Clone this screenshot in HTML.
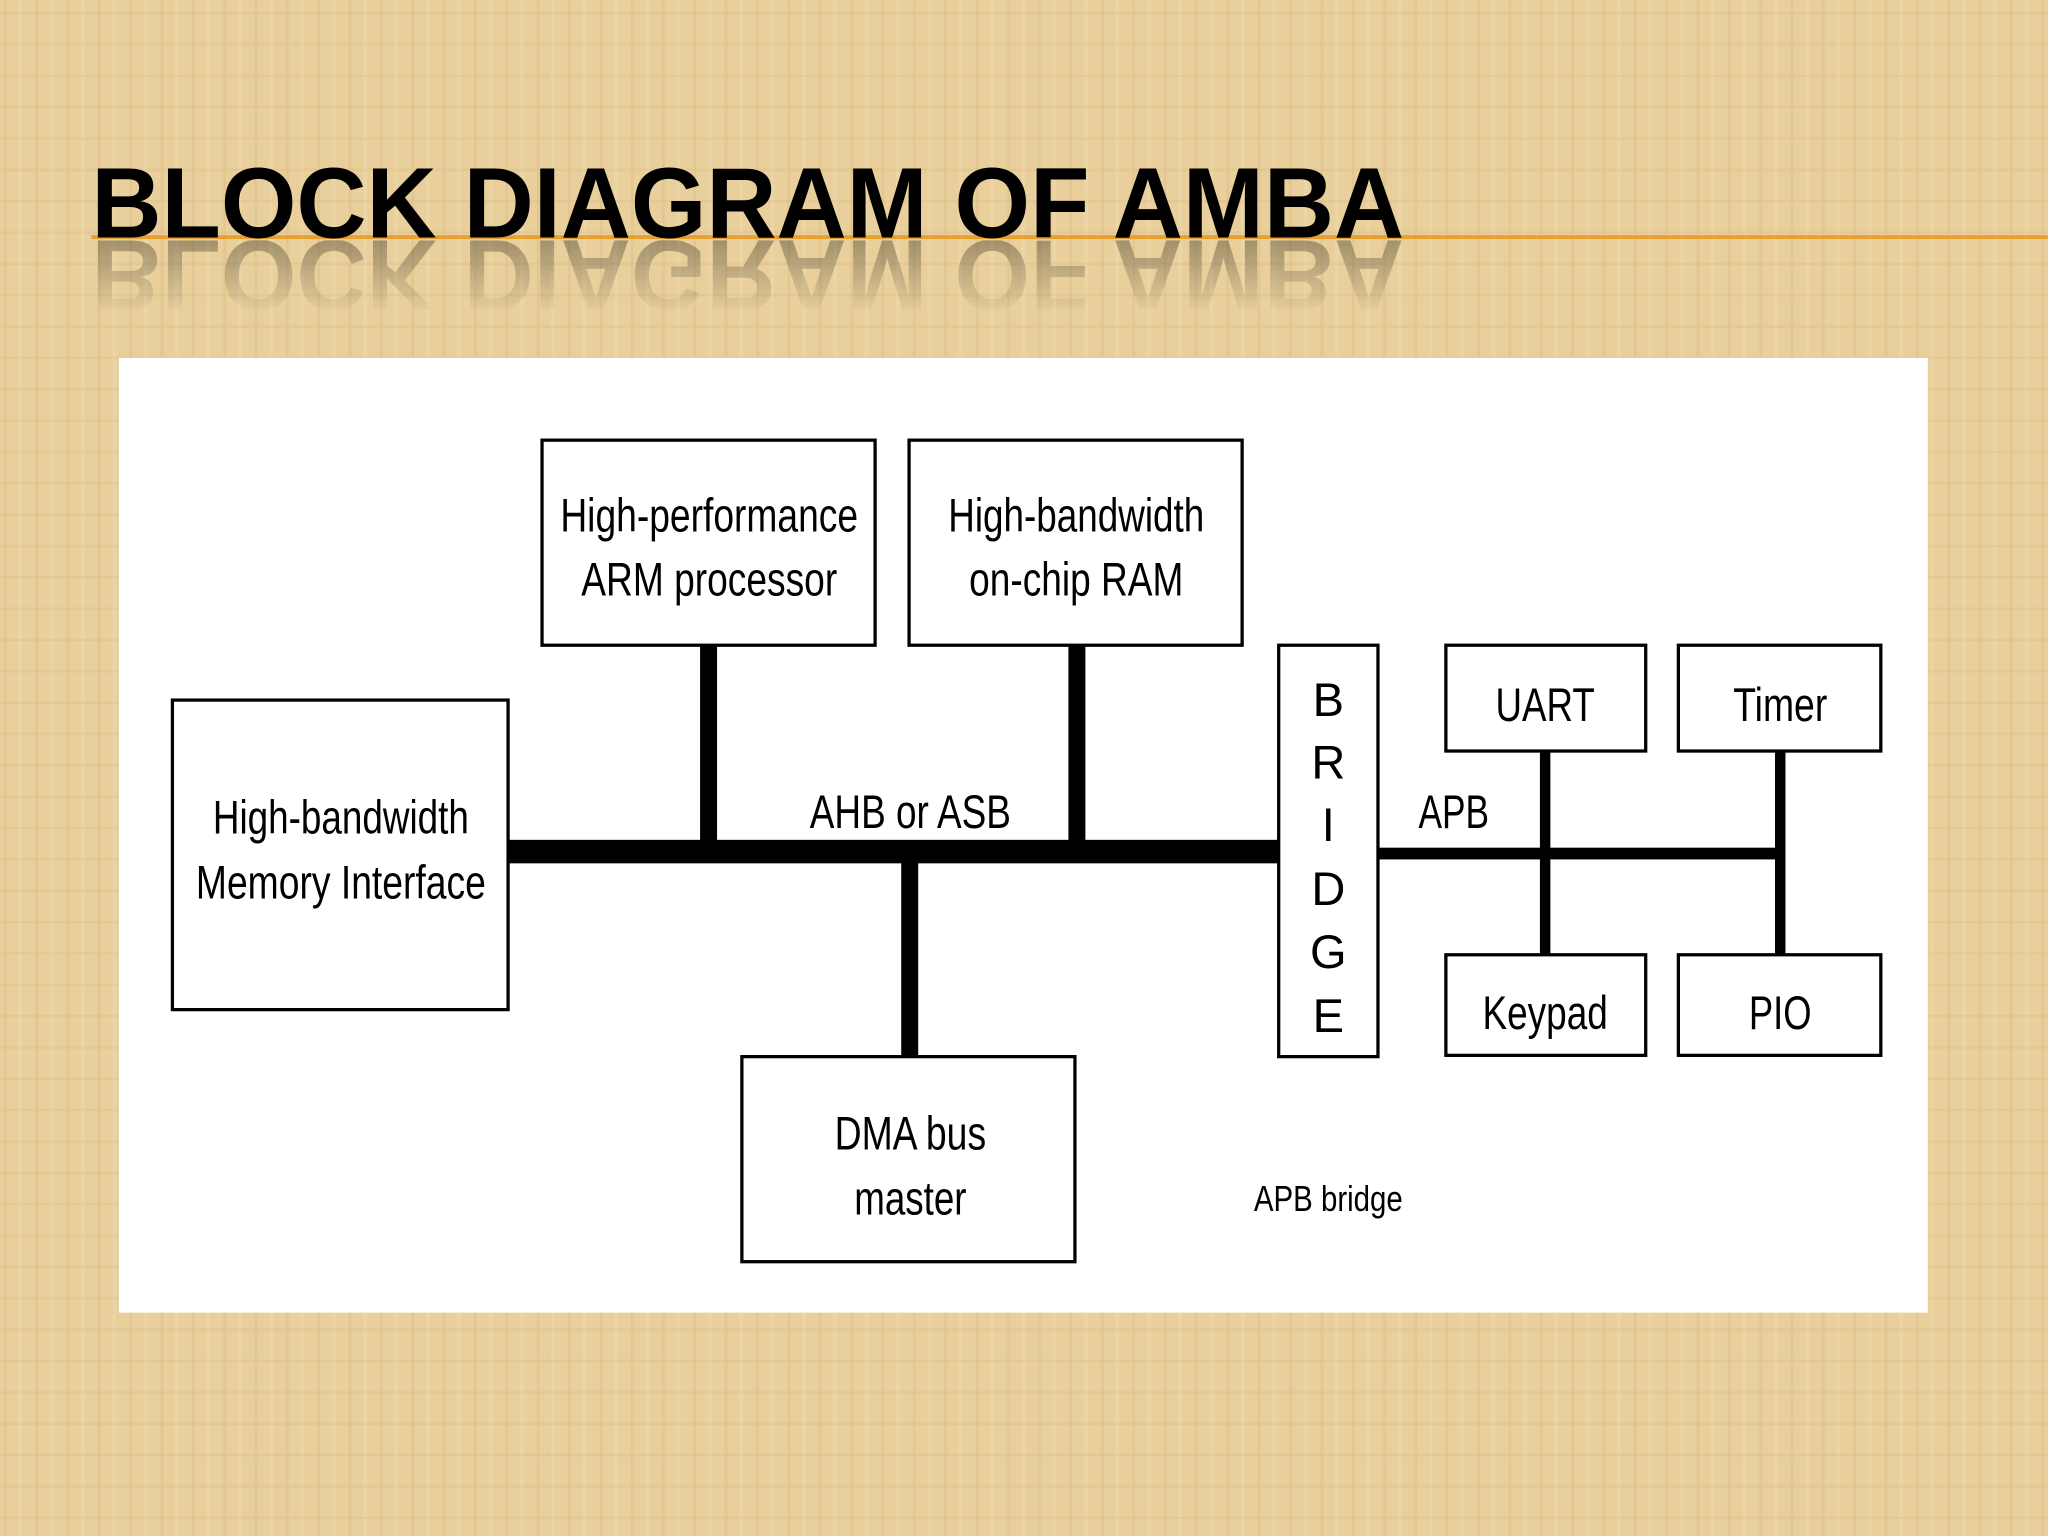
<!DOCTYPE html>
<html><head><meta charset="utf-8"><style>
html,body{margin:0;padding:0;background:#e6cd98;}
svg{display:block}
</style></head><body>
<svg width="2048" height="1536" viewBox="0 0 1568 1176" xmlns="http://www.w3.org/2000/svg" font-family="Liberation Sans, sans-serif">
<defs>
<pattern id="tex" width="24" height="24" patternUnits="userSpaceOnUse">
<rect width="24" height="24" fill="#e8cf9b"/>
<rect x="3" width="2" height="24" fill="#dcc088" opacity="0.5"/>
<rect x="14" width="3" height="24" fill="#f0dcae" opacity="0.5"/>
<rect y="9" width="24" height="2" fill="#d8bb82" opacity="0.3"/>
</pattern>
<linearGradient id="fade" gradientUnits="userSpaceOnUse" x1="0" y1="184" x2="0" y2="240">
<stop offset="0" stop-color="#fff" stop-opacity="1"/>
<stop offset="1" stop-color="#fff" stop-opacity="0"/>
</linearGradient>
<mask id="m"><rect x="0" y="184" width="1568" height="60" fill="url(#fade)"/></mask>
</defs>
<rect width="1568" height="1176" fill="url(#tex)"/>
<g mask="url(#m)">
<text transform="translate(0,366) scale(1,-1)" x="70" y="182" font-size="77" font-weight="bold" textLength="1005" lengthAdjust="spacingAndGlyphs" fill="#000" opacity="0.3">BLOCK DIAGRAM OF AMBA</text>
</g>
<rect x="70" y="180" width="1498" height="3" fill="#e8a030"/>
<text x="70" y="182" font-size="77" font-weight="bold" textLength="1005" lengthAdjust="spacingAndGlyphs" fill="#000">BLOCK DIAGRAM OF AMBA</text>
<rect x="91" y="274" width="1385" height="731" fill="#fff"/>
<g fill="none" stroke="#000" stroke-width="2.5">
<rect x="132" y="536" width="257" height="237"/>
<rect x="415" y="337" width="255" height="157"/>
<rect x="696" y="337" width="255" height="157"/>
<rect x="568" y="809" width="255" height="157"/>
<rect x="979" y="494" width="76" height="315"/>
<rect x="1107" y="494" width="153" height="81"/>
<rect x="1285" y="494" width="155" height="81"/>
<rect x="1107" y="731" width="153" height="77"/>
<rect x="1285" y="731" width="155" height="77"/>
</g>
<g fill="#000">
<rect x="389" y="643" width="590" height="18"/>
<rect x="536" y="494" width="13" height="158"/>
<rect x="818" y="494" width="13" height="158"/>
<rect x="690" y="652" width="13" height="157"/>
<rect x="1055" y="649" width="308" height="9"/>
<rect x="1179" y="575" width="8" height="156"/>
<rect x="1359" y="575" width="8" height="156"/>
</g>
<g fill="#000" font-size="36" text-anchor="middle">
<text x="543" y="407" textLength="228" lengthAdjust="spacingAndGlyphs">High-performance</text>
<text x="543" y="456" textLength="196" lengthAdjust="spacingAndGlyphs">ARM processor</text>
<text x="824" y="407" textLength="196" lengthAdjust="spacingAndGlyphs">High-bandwidth</text>
<text x="824" y="456" textLength="164" lengthAdjust="spacingAndGlyphs">on-chip RAM</text>
<text x="261" y="638" textLength="196" lengthAdjust="spacingAndGlyphs">High-bandwidth</text>
<text x="261" y="688" textLength="222" lengthAdjust="spacingAndGlyphs">Memory Interface</text>
<text x="697" y="880" textLength="116" lengthAdjust="spacingAndGlyphs">DMA bus</text>
<text x="697" y="930" textLength="86" lengthAdjust="spacingAndGlyphs">master</text>
<text x="697" y="634" textLength="154" lengthAdjust="spacingAndGlyphs">AHB or ASB</text>
<text x="1113" y="634" textLength="54" lengthAdjust="spacingAndGlyphs">APB</text>
<text x="1183" y="552" textLength="76" lengthAdjust="spacingAndGlyphs">UART</text>
<text x="1363" y="552" textLength="72" lengthAdjust="spacingAndGlyphs">Timer</text>
<text x="1183" y="788" textLength="96" lengthAdjust="spacingAndGlyphs">Keypad</text>
<text x="1363" y="788" textLength="48" lengthAdjust="spacingAndGlyphs">PIO</text>
<text x="1017" y="548">B</text>
<text x="1017" y="596">R</text>
<text x="1017" y="644">I</text>
<text x="1017" y="693">D</text>
<text x="1017" y="741">G</text>
<text x="1017" y="790">E</text>
<text x="1017" y="927" font-size="28" textLength="114" lengthAdjust="spacingAndGlyphs">APB bridge</text>
</g>
</svg>
</body></html>
